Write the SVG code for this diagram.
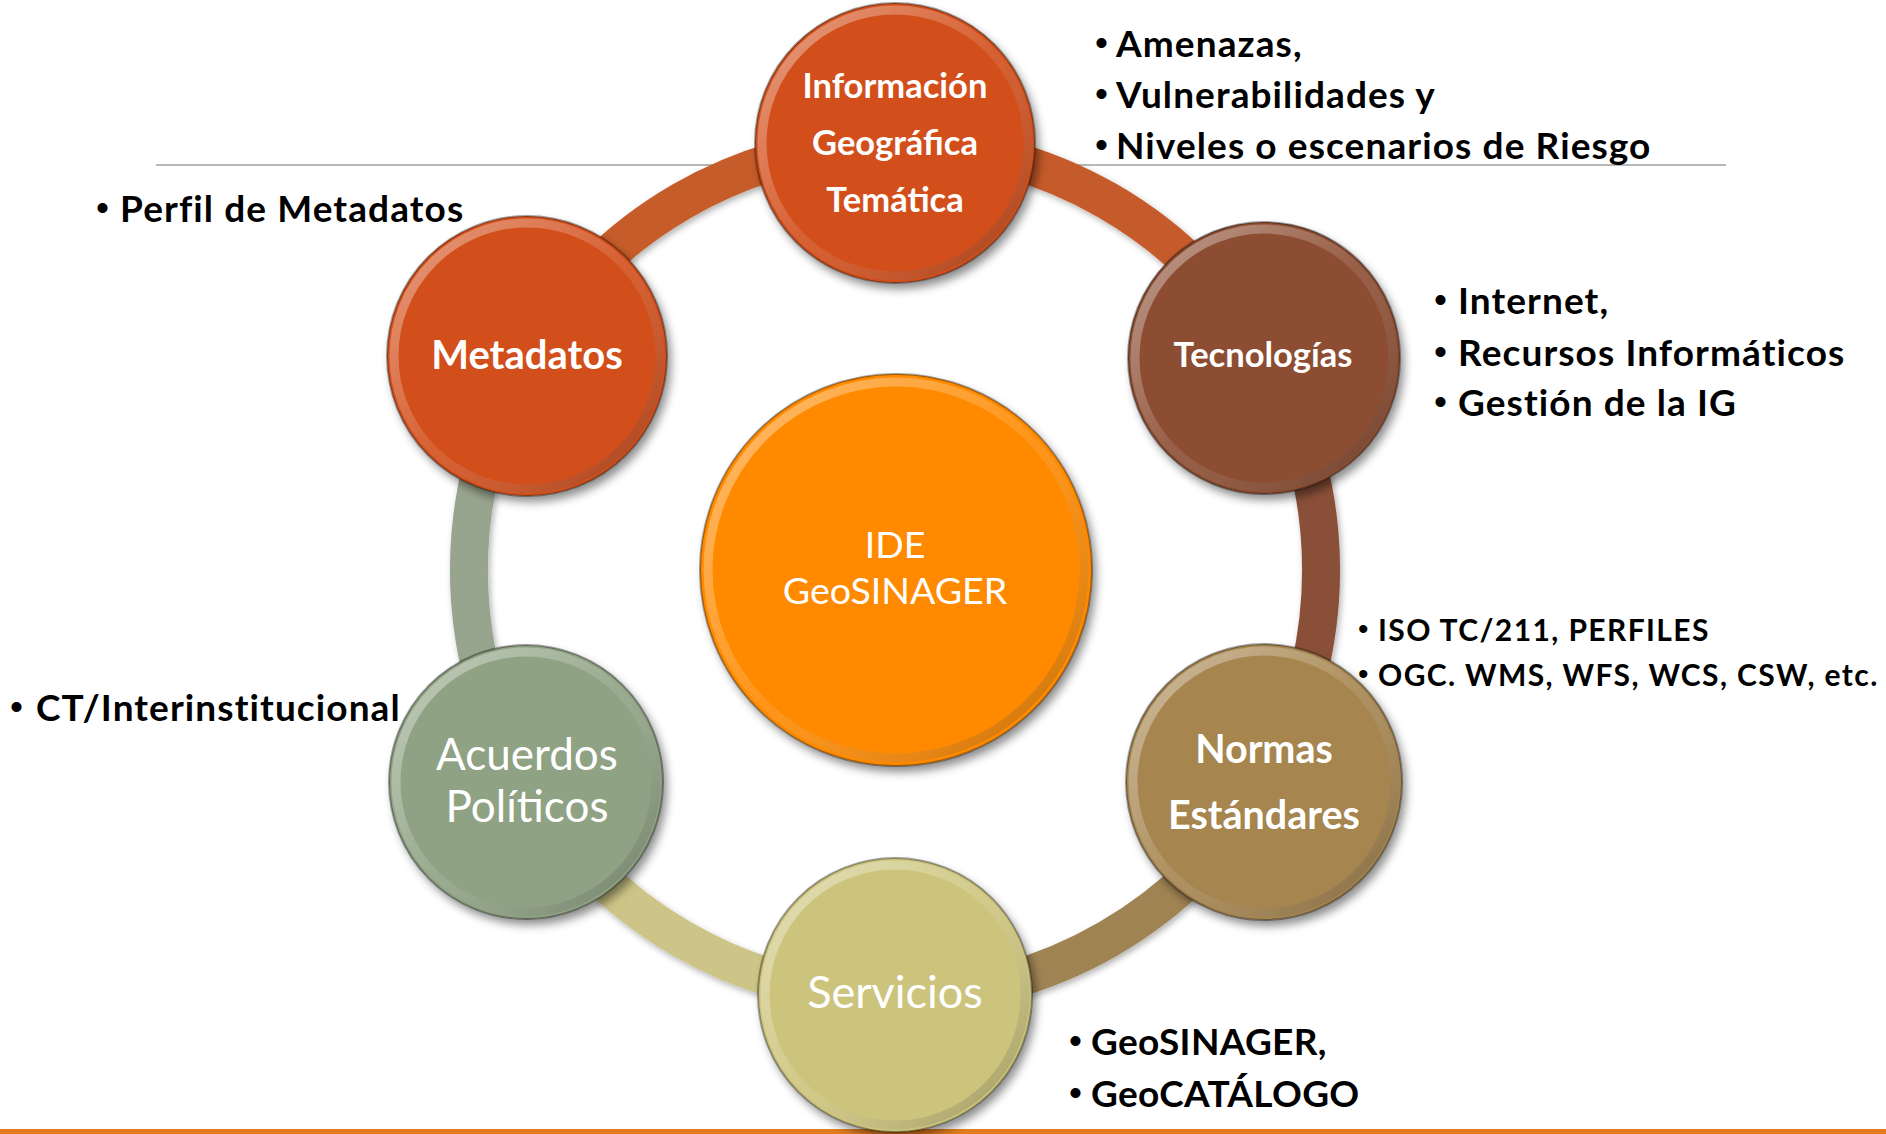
<svg xmlns="http://www.w3.org/2000/svg" width="1886" height="1134" viewBox="0 0 1886 1134">
<defs>
<style>
.lbl{font-family:Lato,"Liberation Sans",sans-serif;fill:#fff;text-anchor:middle}
.b{font-weight:bold}
.note{font-family:Lato,"Liberation Sans",sans-serif;font-weight:bold;fill:#000;letter-spacing:1.1px}
.dot{font-family:"Liberation Sans",Arial,sans-serif;font-weight:normal;letter-spacing:0}
.rim{fill:none;stroke-width:9}
.edge{fill:none;stroke:#000;stroke-opacity:.35;stroke-width:2}
</style>
<filter id="sh" x="-20%" y="-20%" width="150%" height="150%">
<feDropShadow dx="4" dy="6" stdDeviation="5" flood-color="#000" flood-opacity="0.45"/>
</filter>
<filter id="rsh" x="-10%" y="-10%" width="120%" height="120%">
<feDropShadow dx="2" dy="3" stdDeviation="3" flood-color="#000" flood-opacity="0.3"/>
</filter>
<linearGradient id="rimG" x1="0" y1="0" x2="1" y2="1">
<stop offset="0" stop-color="#fff" stop-opacity="0.45"/>
<stop offset="0.5" stop-color="#fff" stop-opacity="0.1"/>
<stop offset="1" stop-color="#000" stop-opacity="0.25"/>
</linearGradient>
</defs>
<rect width="1886" height="1134" fill="#fff"/>
<line x1="156" y1="165" x2="1726" y2="165" stroke="#a0a0a0" stroke-width="1.5"/>
<rect x="0" y="1129" width="1886" height="5" fill="#e27c1e"/>
<g id="connectors" filter="url(#rsh)" fill="none" stroke-width="38">
<path d="M895,144 A426,426 0 0 1 1264,357" stroke="#c55a2c"/>
<path d="M1264,357 A426,426 0 0 1 1264,783" stroke="#8a5037"/>
<path d="M1264,783 A426,426 0 0 1 895,996" stroke="#a08352"/>
<path d="M895,996 A426,426 0 0 1 526,783" stroke="#cdc487"/>
<path d="M526,783 A426,426 0 0 1 526,357" stroke="#98a58e"/>
<path d="M526,357 A426,426 0 0 1 895,144" stroke="#c65b2b"/>
</g>
<g id="center">
<circle cx="896" cy="570" r="196" fill="#ff8a00" filter="url(#sh)"/>
<circle cx="896" cy="570" r="188" class="rim" stroke="url(#rimG)"/>
<circle cx="896" cy="570" r="196" class="edge"/>
<text class="lbl" x="895" y="558" font-size="37.5">IDE</text>
<text class="lbl" x="895" y="604" font-size="37.5">GeoSINAGER</text>
</g>
<g id="n-info">
<circle cx="895" cy="143" r="140" fill="#d2501b" filter="url(#sh)"/>
<circle cx="895" cy="143" r="133" class="rim" stroke="url(#rimG)"/>
<circle cx="895" cy="143" r="140" class="edge"/>
<text class="lbl b" x="895" y="98" font-size="34.5">Información</text>
<text class="lbl b" x="895" y="155" font-size="34.5">Geográfica</text>
<text class="lbl b" x="895" y="212" font-size="34.5">Temática</text>
</g>
<g id="n-tec">
<circle cx="1264" cy="358" r="136" fill="#8c4d33" filter="url(#sh)"/>
<circle cx="1264" cy="358" r="129" class="rim" stroke="url(#rimG)"/>
<circle cx="1264" cy="358" r="136" class="edge"/>
<text class="lbl b" x="1263" y="367" font-size="34.5">Tecnologías</text>
</g>
<g id="n-normas">
<circle cx="1264" cy="782" r="138" fill="#a6854f" filter="url(#sh)"/>
<circle cx="1264" cy="782" r="131" class="rim" stroke="url(#rimG)"/>
<circle cx="1264" cy="782" r="138" class="edge"/>
<text class="lbl b" x="1264" y="763" font-size="39.5">Normas</text>
<text class="lbl b" x="1264" y="829" font-size="39.5">Estándares</text>
</g>
<g id="n-servicios">
<circle cx="895" cy="995" r="137" fill="#ccc47c" filter="url(#sh)"/>
<circle cx="895" cy="995" r="130" class="rim" stroke="url(#rimG)"/>
<circle cx="895" cy="995" r="137" class="edge"/>
<text class="lbl" x="895" y="1008" font-size="45">Servicios</text>
</g>
<g id="n-acuerdos">
<circle cx="526" cy="782" r="137" fill="#8fa283" filter="url(#sh)"/>
<circle cx="526" cy="782" r="130" class="rim" stroke="url(#rimG)"/>
<circle cx="526" cy="782" r="137" class="edge"/>
<text class="lbl" x="527" y="770" font-size="44">Acuerdos</text>
<text class="lbl" x="527" y="822" font-size="44">Políticos</text>
</g>
<g id="n-metadatos">
<circle cx="527" cy="356" r="140" fill="#d2501b" filter="url(#sh)"/>
<circle cx="527" cy="356" r="133" class="rim" stroke="url(#rimG)"/>
<circle cx="527" cy="356" r="140" class="edge"/>
<text class="lbl b" x="527" y="369" font-size="40">Metadatos</text>
</g>
<g id="notes-info" class="note" font-size="37">
<text class="dot" x="1095" y="55">•</text><text x="1116" y="57">Amenazas,</text>
<text class="dot" x="1095" y="106">•</text><text x="1116" y="108">Vulnerabilidades y</text>
<text class="dot" x="1095" y="157">•</text><text x="1116" y="159">Niveles o escenarios de Riesgo</text>
</g>
<g id="notes-meta" class="note" font-size="37">
<text class="dot" x="96" y="220">•</text><text x="120" y="222">Perfil de Metadatos</text>
</g>
<g id="notes-tec" class="note" font-size="37">
<text class="dot" x="1434" y="312">•</text><text x="1458" y="314">Internet,</text>
<text class="dot" x="1434" y="364">•</text><text x="1458" y="366">Recursos Informáticos</text>
<text class="dot" x="1434" y="414">•</text><text x="1458" y="416">Gestión de la IG</text>
</g>
<g id="notes-normas" class="note" font-size="30" style="letter-spacing:1.4px">
<text class="dot" x="1358" y="639">•</text><text x="1378" y="641">ISO TC/211, PERFILES</text>
<text class="dot" x="1358" y="684">•</text><text x="1378" y="686">OGC. WMS, WFS, WCS, CSW, etc.</text>
</g>
<g id="notes-serv" class="note" font-size="37" style="letter-spacing:0.3px">
<text class="dot" x="1069" y="1053">•</text><text x="1091" y="1055">GeoSINAGER,</text>
<text class="dot" x="1069" y="1105">•</text><text x="1091" y="1107">GeoCATÁLOGO</text>
</g>
<g id="notes-acu" class="note" font-size="37">
<text class="dot" x="10" y="719">•</text><text x="36" y="721">CT/Interinstitucional</text>
</g>
</svg>
